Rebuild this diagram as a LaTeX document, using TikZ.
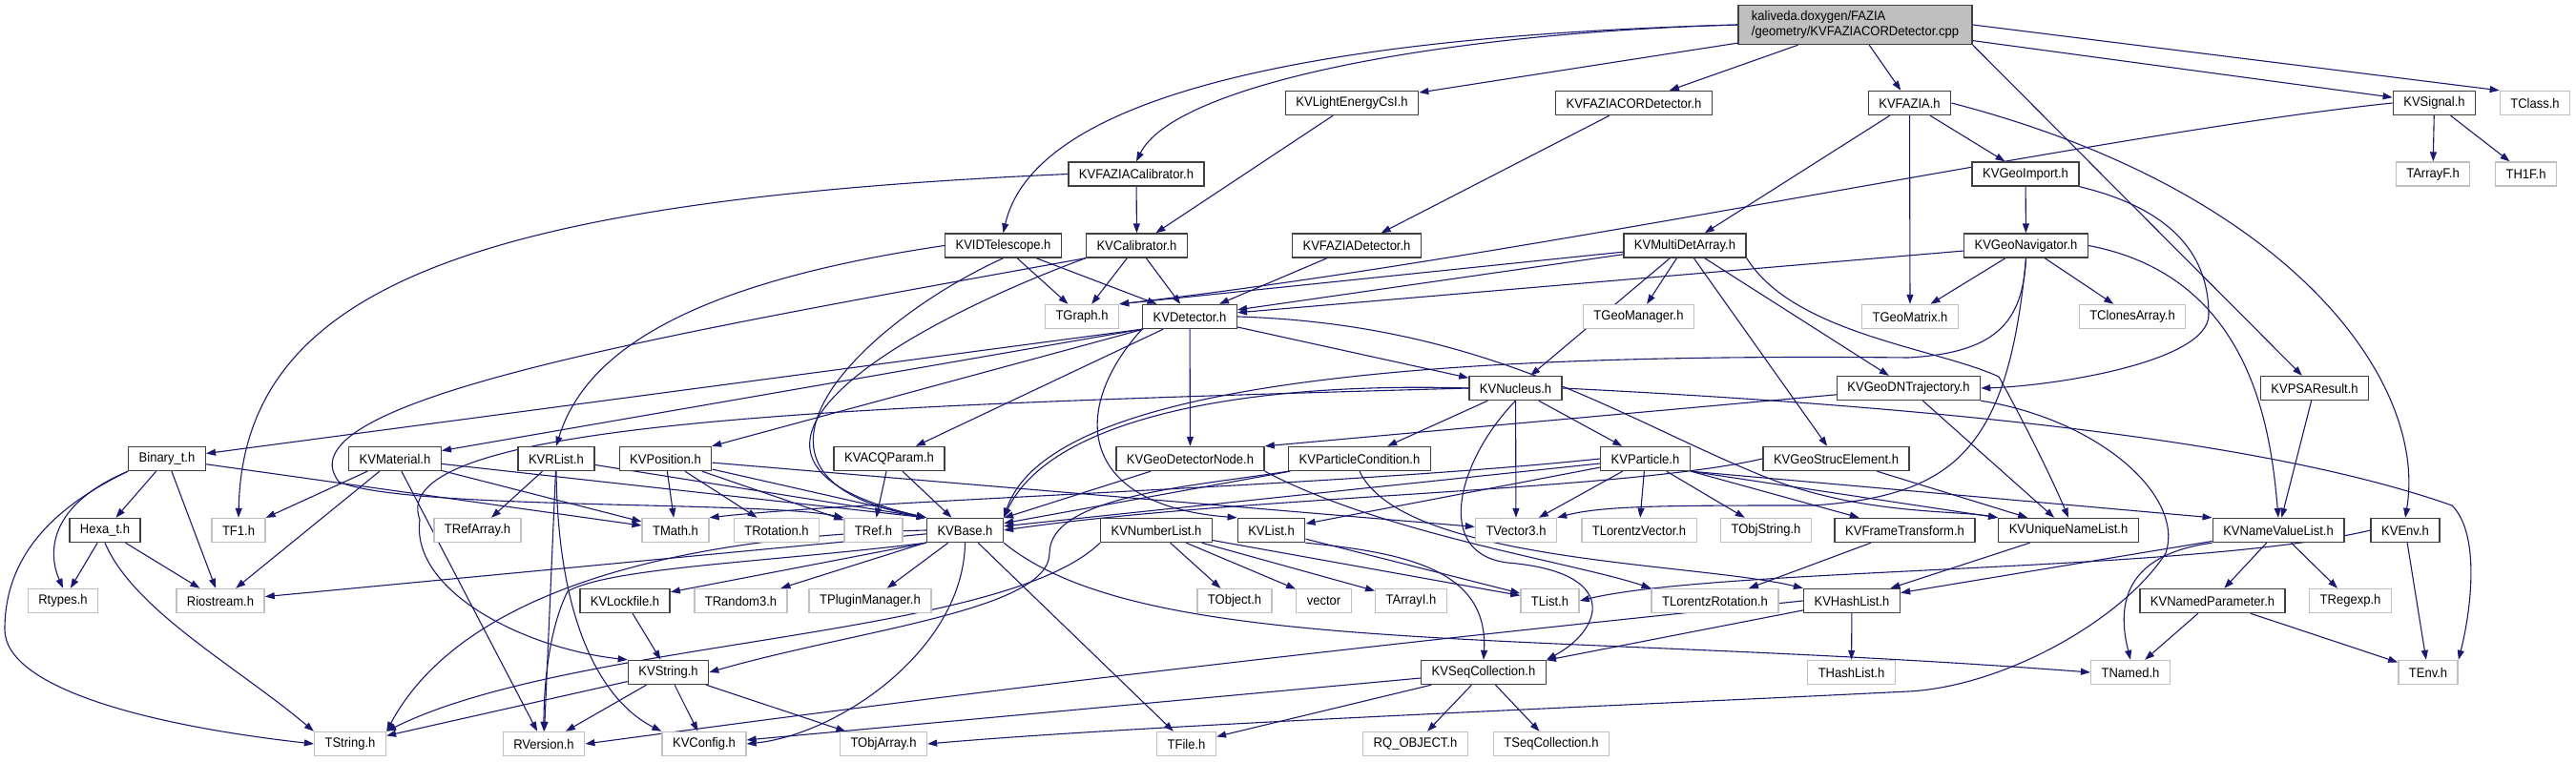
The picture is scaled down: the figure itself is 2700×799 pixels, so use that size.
\documentclass[tikz,border=0pt]{standalone}
\usepackage{fontspec}
\setmainfont{Liberation Sans}[FakeStretch=0.93]
\usepackage{tikz}
\usetikzlibrary{arrows.meta}
\pgfdeclarelayer{background}
\pgfsetlayers{background,main}
\definecolor{edgeblue}{HTML}{191970}
\definecolor{docgray}{HTML}{404040}
\definecolor{extgray}{HTML}{BFBFBF}
\definecolor{topgray}{HTML}{BFBFBF}

\begin{document}
\begin{tikzpicture}[
  x=1pt, y=-1pt,
  every node/.style={font=\fontsize{14}{15.5}\selectfont},
  hdr/.style={draw=docgray, line width=1.4pt, fill=white,
    minimum height=25pt, inner xsep=11pt, inner ysep=2pt},
  ext/.style={hdr, draw=extgray},
  srcfile/.style={hdr, fill=topgray, align=left,
    minimum width=245pt, minimum height=41pt},
  dep/.style={draw=edgeblue, line width=1.1pt,
    -{Triangle[length=10pt,width=7pt]}}
]
\useasboundingbox (0,0) rectangle (2700,799);

% source file
\node[srcfile] (cpp) at (1944.5,26)
  {kaliveda.doxygen/FAZIA\\/geometry/KVFAZIACORDetector.cpp};

% row 1
\node[hdr] (lightcsi) at (1417,108) {KVLightEnergyCsI.h};
\node[hdr] (faziacor) at (1712.5,108) {KVFAZIACORDetector.h};
\node[hdr] (fazia) at (2001.5,108) {KVFAZIA.h};
\node[hdr] (signal) at (2551.5,108) {KVSignal.h};
\node[ext] (tclass) at (2657,108) {TClass.h};

% row 2
\node[hdr] (fazcalib) at (1191,182.5) {KVFAZIACalibrator.h};
\node[hdr] (geoimport) at (2123,182.5) {KVGeoImport.h};
\node[ext] (tarrayf) at (2550,182.5) {TArrayF.h};
\node[ext] (th1f) at (2647.5,182.5) {TH1F.h};

% row 3
\node[hdr] (idtel) at (1051.5,257.5) {KVIDTelescope.h};
\node[hdr] (calib) at (1191.5,257.5) {KVCalibrator.h};
\node[hdr] (faziadet) at (1422,257.5) {KVFAZIADetector.h};
\node[hdr] (multidet) at (1766,257.5) {KVMultiDetArray.h};
\node[hdr] (geonav) at (2123.5,257.5) {KVGeoNavigator.h};

% row 4
\node[ext] (tgraph) at (1134,332) {TGraph.h};
\node[hdr] (detector) at (1247,332) {KVDetector.h};
\node[ext] (tgeomanager) at (1717.5,332) {TGeoManager.h};
\node[ext] (tgeomatrix) at (2002,332) {TGeoMatrix.h};
\node[ext] (tclonesarray) at (2235,332) {TClonesArray.h};

% row 5
\node[hdr] (nucleus) at (1588.5,407) {KVNucleus.h};
\node[hdr] (dntraj) at (2000.5,407) {KVGeoDNTrajectory.h};
\node[hdr] (psaresult) at (2426,407) {KVPSAResult.h};

% row 6
\node[hdr] (binary) at (175,481) {Binary\_t.h};
\node[hdr] (material) at (414,481) {KVMaterial.h};
\node[hdr] (rlist) at (583,481) {KVRList.h};
\node[hdr] (position) at (697.5,481) {KVPosition.h};
\node[hdr] (acqparam) at (932,481) {KVACQParam.h};
\node[hdr] (detnode) at (1247.5,481) {KVGeoDetectorNode.h};
\node[hdr] (partcond) at (1425,481) {KVParticleCondition.h};
\node[hdr] (particle) at (1724.5,481) {KVParticle.h};
\node[hdr] (strucelem) at (1924.5,481) {KVGeoStrucElement.h};

% row 7
\node[hdr] (hexa) at (110,556) {Hexa\_t.h};
\node[ext] (tfone) at (250,556) {TF1.h};
\node[ext] (trefarray) at (500.5,556) {TRefArray.h};
\node[ext] (tmath) at (708,556) {TMath.h};
\node[ext] (trotation) at (814,556) {TRotation.h};
\node[ext] (tref) at (915.5,556) {TRef.h};
\node[hdr] (kvbase) at (1011.5,556) {KVBase.h};
\node[hdr] (numlist) at (1212,556) {KVNumberList.h};
\node[hdr] (kvlist) at (1332.5,556) {KVList.h};
\node[ext] (tvector) at (1589,556) {TVector3.h};
\node[ext] (tlorentzvector) at (1718,556) {TLorentzVector.h};
\node[ext] (tobjstring) at (1851,556) {TObjString.h};
\node[hdr] (frametrans) at (1996.5,556) {KVFrameTransform.h};
\node[hdr] (uniquelist) at (2168,556) {KVUniqueNameList.h};
\node[hdr] (namevaluelist) at (2388,556) {KVNameValueList.h};
\node[hdr] (kvenv) at (2521,556) {KVEnv.h};

% row 8
\node[ext] (rtypes) at (66,630) {Rtypes.h};
\node[ext] (riostream) at (231,630) {Riostream.h};
\node[hdr] (lockfile) at (655,630) {KVLockfile.h};
\node[ext] (trandom) at (776.5,630) {TRandom3.h};
\node[ext] (tplugin) at (912,630) {TPluginManager.h};
\node[ext] (tobject) at (1294,630) {TObject.h};
\node[ext] (vector) at (1387.5,630) {vector};
\node[ext] (tarrayi) at (1479,630) {TArrayI.h};
\node[ext] (tlist) at (1624.5,630) {TList.h};
\node[ext] (tlorentzrot) at (1797.5,630) {TLorentzRotation.h};
\node[hdr] (hashlist) at (1941,630) {KVHashList.h};
\node[hdr] (namedparam) at (2319,630) {KVNamedParameter.h};
\node[ext] (tregexp) at (2463.5,630) {TRegexp.h};

% row 9
\node[hdr] (kvstring) at (700.5,705) {KVString.h};
\node[hdr] (seqcoll) at (1555,705) {KVSeqCollection.h};
\node[ext] (thashlist) at (1940.5,705) {THashList.h};
\node[ext] (tnamed) at (2233,705) {TNamed.h};
\node[ext] (tenv) at (2545,705) {TEnv.h};

% row 10
\node[ext] (tstring) at (367,780) {TString.h};
\node[ext] (rversion) at (570,780) {RVersion.h};
\node[ext] (kvconfig) at (738,780) {KVConfig.h};
\node[ext] (tobjarray) at (926,780) {TObjArray.h};
\node[ext] (tfile) at (1243.5,780) {TFile.h};
\node[ext] (rqobject) at (1483.5,780) {RQ\_OBJECT.h};
\node[ext] (tseqcoll) at (1626,780) {TSeqCollection.h};

\begin{pgfonlayer}{background}
% straight includes
\foreach \a/\b in {cpp/lightcsi, cpp/faziacor, cpp/fazia,
  cpp.south east/psaresult, cpp/signal, cpp.east/tclass.north west,
  lightcsi/calib, faziacor/faziadet, fazia/multidet, fazia/tgeomatrix,
  fazia/geoimport, signal/tarrayf, signal/th1f,
  fazcalib/calib, geoimport/geonav,
  idtel/tgraph, idtel/detector, calib/tgraph, calib/detector,
  faziadet/detector, multidet/tgraph.north east, multidet/detector,
  multidet/tgeomanager, multidet/nucleus, multidet/dntraj,
  multidet/strucelem, geonav/tgeomatrix, geonav/tclonesarray,
  geonav/detector, detector.south west/binary,
  detector.south west/material, detector/position, detector/acqparam,
  detector/detnode, detector/nucleus, dntraj/detnode.north east,
  dntraj/uniquelist, psaresult/namevaluelist,
  nucleus/partcond, nucleus/particle, nucleus/tvector,
  binary/hexa, binary/riostream, binary/tmath,
  material/tfone, material/riostream, material/rversion,
  material/kvbase.north west, material/tmath,
  rlist/trefarray, rlist/rversion, rlist/kvbase.north west,
  position/tmath, position/trotation, position/tref,
  position/kvbase.north west, position/tvector,
  acqparam/tref, acqparam/kvbase, detnode/kvbase, partcond/kvbase,
  particle/kvbase, particle/kvlist, particle/tvector,
  particle/tlorentzvector, particle/tobjstring, particle/frametrans,
  particle.south east/uniquelist.north west,
  particle.south east/namevaluelist.north west,
  strucelem/uniquelist, hexa/rtypes, hexa/riostream,
  kvbase/riostream, kvbase.south west/lockfile, kvbase/trandom,
  kvbase/tplugin, kvbase/tfile,
  numlist/tobject, numlist/vector, numlist/tarrayi, numlist/tlist,
  kvlist/tlist, frametrans/tlorentzrot, uniquelist/hashlist,
  namevaluelist/hashlist, namevaluelist/namedparam,
  namevaluelist/tregexp,
  kvenv/tenv, namedparam/tnamed, namedparam/tenv, lockfile/kvstring,
  hashlist/thashlist, hashlist/seqcoll,
  kvstring/tstring, kvstring/rversion, kvstring/kvconfig,
  kvstring/tobjarray, seqcoll/rqobject, seqcoll/tseqcoll,
  seqcoll/kvconfig, seqcoll/tfile}
  \draw[dep] (\a) -- (\b);

% routed includes
\draw[dep] (cpp.west) .. controls (1500,35) and (1230,90) .. (fazcalib.north);
\draw[dep] (cpp.west) .. controls (1300,40) and (1080,120) .. (idtel.north);
\draw[dep] (signal.west) .. controls (2200,140) and (1600,270) .. (tgraph.north east);
\draw[dep] (fazcalib.west) .. controls (500,210) and (255,300) .. (tfone.north);
\draw[dep] (fazia.east) .. controls (2400,200) and (2545,400) .. (kvenv.north);
\draw[dep] (geoimport.south east) .. controls (2280,220) and (2315,270) .. (2315,330)
  .. controls (2315,380) and (2150,405) .. (dntraj.east);
\draw[dep] (multidet.south east) .. controls (1880,350) and (2030,365) .. (2095,395)
  .. controls (2120,440) and (2150,500) .. (uniquelist.north);
\draw[dep] (geonav.south) .. controls (2120,340) and (2090,370) .. (2000,375)
  .. controls (1500,370) and (1100,400) .. (kvbase.north east);
\draw[dep] (geonav.south) .. controls (2105,470) and (2050,520) .. (1900,530)
  .. controls (1750,530) and (1680,530) .. (tvector.north east);
\draw[dep] (geonav.east) .. controls (2360,290) and (2380,450) .. (namevaluelist.north);
\draw[dep] (idtel.west) .. controls (700,300) and (610,380) .. (rlist.north);
\draw[dep] (idtel.south) .. controls (900,340) and (740,500) .. (kvbase.north west);
\draw[dep] (calib.south west) .. controls (950,340) and (700,480) .. (kvbase.north west);
\draw[dep] (calib.south west) .. controls (700,350) and (290,420) .. (355,505)
  .. controls (420,535) and (800,525) .. (tref.north west);
\draw[dep] (detector.south west) .. controls (1120,430) and (1130,530) .. (kvlist.north west);
\draw[dep] (detector.east) .. controls (1560,340) and (1700,440) .. (1850,500)
  .. controls (1950,540) and (2050,535) .. (uniquelist.north west);
\draw[dep] (nucleus.west) .. controls (1300,400) and (1100,440) .. (kvbase.north east);
\draw[dep] (nucleus.west) .. controls (900,425) and (400,440) .. (440,545)
  .. controls (430,620) and (550,680) .. (kvstring.north west);
\draw[dep] (nucleus.east) .. controls (2100,430) and (2400,470) .. (2570,530)
  .. controls (2600,560) and (2590,640) .. (tenv.north east);
\draw[dep] (nucleus.south) .. controls (1530,480) and (1500,580) .. (1580,590)
  .. controls (1700,600) and (1680,660) .. (seqcoll.north east);
\draw[dep] (partcond.south west) .. controls (1250,510) and (1100,520) .. (1100,580)
  .. controls (1100,640) and (900,660) .. (kvstring.east);
\draw[dep] (partcond.south) .. controls (1470,590) and (1780,590) .. (hashlist.north west);
\draw[dep] (detnode.south east) .. controls (1450,560) and (1650,590) .. (tlorentzrot.north west);
\draw[dep] (particle.west) .. controls (1400,510) and (900,525) .. (tmath.north east);
\draw[dep] (strucelem.west) .. controls (1700,515) and (1300,520) .. (kvbase.east);
\draw[dep] (binary.south west) .. controls (60,530) and (5,580) .. (5,660)
  .. controls (5,720) and (150,760) .. (tstring.west);
\draw[dep] (binary.south west) .. controls (50,530) and (50,580) .. (rtypes.north);
\draw[dep] (hexa.south) .. controls (140,640) and (250,700) .. (tstring.north west);
\draw[dep] (rlist.south) .. controls (585,670) and (640,740) .. (kvconfig.north west);
\draw[dep] (kvbase.west) .. controls (800,560) and (500,590) .. (tstring.north east);
\draw[dep] (kvbase.south west) .. controls (800,590) and (640,595) .. (595,620)
  .. controls (575,660) and (570,720) .. (rversion.north);
\draw[dep] (kvbase.south) .. controls (1010,680) and (880,770) .. (kvconfig.east);
\draw[dep] (kvbase.south east) .. controls (1200,690) and (1600,660) .. (tnamed.west);
\draw[dep] (numlist.south west) .. controls (1050,670) and (600,670) .. (tstring.north east);
\draw[dep] (kvlist.south east) .. controls (1480,580) and (1560,600) .. (seqcoll.north);
\draw[dep] (namevaluelist.south west) .. controls (2240,580) and (2215,620) .. (tnamed.north);
\draw[dep] (kvenv.west) .. controls (2300,600) and (1800,595) .. (tlist.east);
\draw[dep] (hashlist.west) .. controls (1200,700) and (800,755) .. (rversion.east);
\draw[dep] (dntraj.south east) .. controls (2200,440) and (2290,520) .. (2270,580)
  .. controls (2225,650) and (2100,720) .. (2000,725)
  .. controls (1700,740) and (1200,760) .. (tobjarray.east);
\end{pgfonlayer}
\end{tikzpicture}
\end{document}
